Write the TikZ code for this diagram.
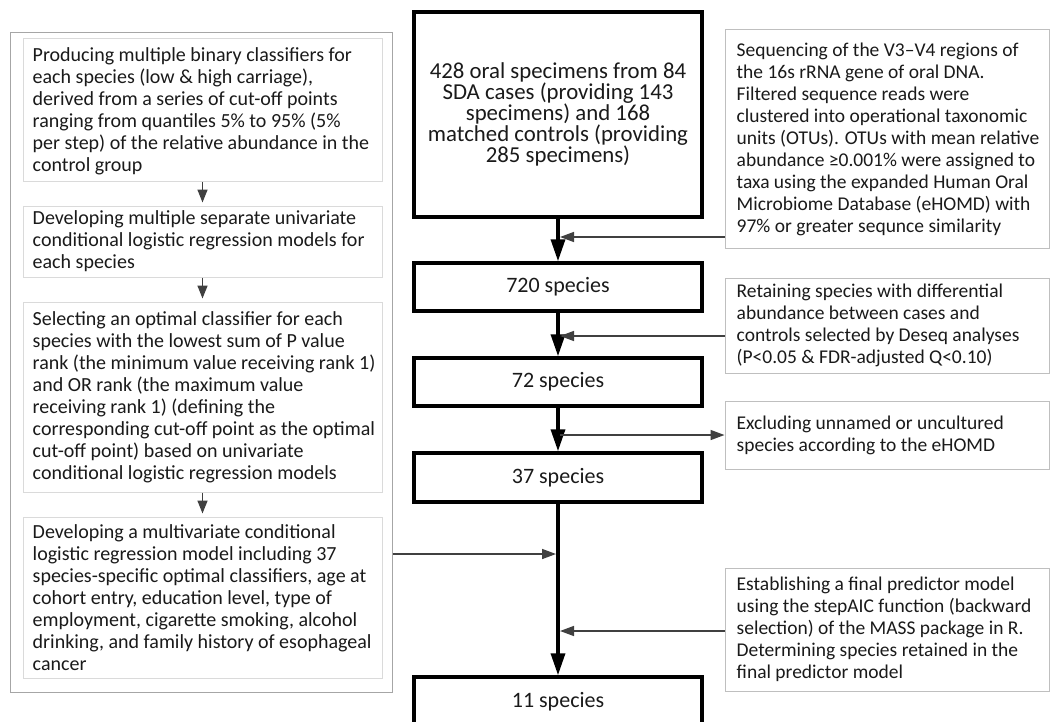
\documentclass[tikz,border=0pt]{standalone}
\usepackage{fontspec}
\setmainfont{Carlito}
\usetikzlibrary{arrows.meta}
\definecolor{txt}{HTML}{1A1A1A}
\definecolor{arrgray}{HTML}{404040}
\definecolor{lboxc}{HTML}{DADADA}
\definecolor{rboxc}{HTML}{BFBFBF}
\definecolor{framec}{HTML}{A6A6A6}
\begin{document}
\begin{tikzpicture}[x=1pt,y=-1pt,
  mainbox/.style={draw=black,line width=3.5pt,minimum width=288pt,inner sep=0pt,text=txt,align=center},
  lbox/.style={draw=lboxc,line width=1pt,minimum width=359pt,inner sep=0pt},
  rbox/.style={draw=rboxc,line width=1pt,minimum width=324pt,inner sep=0pt},
  ltext/.style={anchor=west,inner sep=0pt,align=left,text=txt,font=\fontsize{20pt}{22pt}\selectfont},
  rtext/.style={anchor=west,inner sep=0pt,align=left,text=txt,font=\fontsize{19.5pt}{22pt}\selectfont},
  mainarrow/.style={draw=black,line width=3.5pt,-{Triangle[width=14pt,length=22pt]}},
  grayarrow/.style={draw=arrgray,line width=1.5pt,-{Triangle[width=10pt,length=14pt]}},
  smallarrow/.style={draw=arrgray,line width=1.5pt,-{Triangle[width=10pt,length=13pt]}}]
\useasboundingbox (0,0) rectangle (1051,722);
\clip (0,0) rectangle (1051,722);
\fill[white] (0,0) rectangle (1051,722);

% left frame
\node[draw=framec,line width=1pt,minimum width=382pt,minimum height=659pt,inner sep=0pt] (frame) at (201,362.5) {};

% left boxes
\node[lbox,minimum height=143pt] (l1) at (202.5,110.5) {};
\node[lbox,minimum height=71pt] (l2) at (202.5,241.5) {};
\node[lbox,minimum height=190pt] (l3) at (202.5,397) {};
\node[lbox,minimum height=161pt] (l4) at (202.5,597.5) {};

\node[ltext] (l1t) at ([xshift=10pt,yshift=-1pt]l1.west) {Producing multiple binary classifiers for\\each species (low \& high carriage),\\derived from a series of cut-off points\\ranging from quantiles 5\% to 95\% (5\%\\per step) of the relative abundance in the\\control group};
\node[ltext] (l2t) at ([xshift=10pt]l2.west) {Developing multiple separate univariate\\conditional logistic regression models for\\each species};
\node[ltext] (l3t) at ([xshift=10pt]l3.west) {Selecting an optimal classifier for each\\species with the lowest sum of P value\\rank (the minimum value receiving rank 1)\\and OR rank (the maximum value\\receiving rank 1) (defining the\\corresponding cut-off point as the optimal\\cut-off point) based on univariate\\conditional logistic regression models};
\node[ltext] (l4t) at ([xshift=10pt]l4.west) {Developing a multivariate conditional\\logistic regression model including 37\\species-specific optimal classifiers, age at\\cohort entry, education level, type of\\employment, cigarette smoking, alcohol\\drinking, and family history of esophageal\\cancer};

\draw[smallarrow] (l1.south) -- ([yshift=3pt]l2.north);
\draw[smallarrow] (l2.south) -- ([yshift=3pt]l3.north);
\draw[smallarrow] (l3.south) -- ([yshift=3pt]l4.north);

% main boxes
\node[mainbox,minimum height=205pt,font=\fontsize{22.8pt}{21pt}\selectfont] (a) at (558,114.5) {428 oral specimens from 84\\SDA cases (providing 143\\specimens) and 168\\matched controls (providing\\285 specimens)};
\node[mainbox,minimum height=48pt,font=\fontsize{22pt}{24pt}\selectfont] (b) at (558,287) {720 species};
\node[mainbox,minimum height=48pt,font=\fontsize{22pt}{24pt}\selectfont] (c) at (558,382) {72 species};
\node[mainbox,minimum height=49pt,font=\fontsize{22pt}{24pt}\selectfont] (d) at (558,477.5) {37 species};
\node[mainbox,minimum height=50pt,font=\fontsize{22pt}{24pt}\selectfont] (e) at (558,702) {11 species};

\draw[mainarrow] (a.south) -- (b.north);
\draw[mainarrow] (b.south) -- (c.north);
\draw[mainarrow] (c.south) -- (d.north);
\draw[mainarrow] (d.south) -- (e.north);

% right boxes
\node[rbox,minimum height=218pt] (r1) at (887,139) {};
\node[rbox,minimum height=95pt] (r2) at (887,325.5) {};
\node[rbox,minimum height=68pt] (r3) at (887,435) {};
\node[rbox,minimum height=123pt] (r4) at (887,629.5) {};

\node[rtext] (r1t) at ([xshift=12pt]r1.west) {Sequencing of the V3–V4 regions of\\the 16s rRNA gene of oral DNA.\\Filtered sequence reads were\\clustered into operational taxonomic\\units (OTUs). OTUs with mean relative\\abundance ≥0.001\% were assigned to\\taxa using the expanded Human Oral\\Microbiome Database (eHOMD) with\\97\% or greater sequnce similarity};
\node[rtext] (r2t) at ([xshift=12pt]r2.west) {Retaining species with differential\\abundance between cases and\\controls selected by Deseq analyses\\(P<0.05 \& FDR-adjusted Q<0.10)};
\node[rtext] (r3t) at ([xshift=12pt]r3.west) {Excluding unnamed or uncultured\\species according to the eHOMD};
\node[rtext] (r4t) at ([xshift=12pt]r4.west) {Establishing a final predictor model\\using the stepAIC function (backward\\selection) of the MASS package in R.\\Determining species retained in the\\final predictor model};

% junctions on the main line
\coordinate (j1) at (560,237);
\coordinate (j2) at (560,336);
\coordinate (j3) at (560,435);
\coordinate (j4) at (556,554);
\coordinate (j5) at (560,631);

\draw[grayarrow] (r1.west |- j1) -- (j1);
\draw[grayarrow] (r2.west |- j2) -- (j2);
\draw[grayarrow] (j3) -- (r3.west);
\draw[grayarrow] (frame.east |- j4) -- (j4);
\draw[grayarrow] (r4.west |- j5) -- (j5);
\end{tikzpicture}
\end{document}
